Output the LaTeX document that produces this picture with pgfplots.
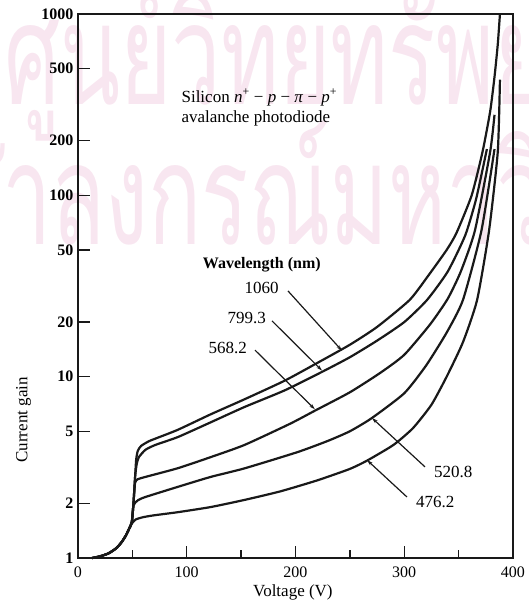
\documentclass[border=0pt]{standalone}
\usepackage{fontspec}
\setmainfont{Liberation Serif}
\newfontfamily\thaifont[Script=Thai]{Loma}
\usepackage{pgfplots}
\pgfplotsset{compat=1.18}
\usetikzlibrary{arrows.meta}
\definecolor{wmark}{RGB}{248,230,240}
\definecolor{ink}{RGB}{25,25,25}
\pgfplotsset{gaincurve/.style={ink, line width=2.2pt, no markers, smooth, tension=0.35}}

\begin{document}
\begin{tikzpicture}
% faint watermark of the scanned page
\node[overlay,anchor=base west,text=wmark,inner sep=0pt,yscale=1.6] at (-74pt,453pt)
  {\thaifont\fontsize{88}{88}\selectfont ศูนย์วิทยทรัพยากร};
\node[overlay,anchor=base west,text=wmark,inner sep=0pt,yscale=1.6] at (-76pt,313pt)
  {\thaifont\fontsize{88}{88}\selectfont \llap{จุฬ}าลงกรณ์มหาวิทยาลัย};
\path (-78pt,-48pt) rectangle (447pt,558pt);

\begin{axis}[
    width=435pt, height=544pt, scale only axis,
    xmin=0, xmax=400, ymin=1, ymax=1000, ymode=log,
    xtick={0,100,200,300,400},
    minor xtick={50,150,250,350},
    ytick={1,2,5,10,20,50,100,200,500,1000},
    yticklabels={1,2,5,10,20,50,100,200,500,1000},
    /pgf/number format/assume math mode=true,
    tick pos=left, tick align=inside,
    major tick length=12pt, minor tick length=8pt,
    tick style={line width=1.3pt, ink},
    axis line style={line width=1.6pt, ink},
    xticklabel style={font=\fontsize{16}{16}\selectfont, yshift=-5pt},
    yticklabel style={font=\bfseries\fontsize{16}{16}\selectfont, xshift=-1pt},
    xlabel={Voltage (V)},
    ylabel={Current gain},
    xlabel style={font=\fontsize{17}{17}\selectfont, at={(axis description cs:0.494,-0.0625)}, anchor=center},
    ylabel style={font=\fontsize{17}{17}\selectfont, at={(axis description cs:-0.125,0.254)}, anchor=center},
    clip=false,
]

% 1060 nm
\addplot[gaincurve] coordinates {
  (13,1.0) (20,1.02) (28,1.06) (35,1.13) (40,1.22) (44,1.33) (47,1.45) (49.5,1.57)
  (51,2.0) (52.5,2.8) (53.5,3.5) (55,3.9) (58,4.15) (65,4.4) (71,4.55) (92,5.1)
  (122,6.2) (153,7.5) (190,9.5) (220,11.9) (250,15) (275,18.8) (305,26.5) (322,36)
  (339,50) (348,62) (362,100) (372,174) (379,290) (383,450) (386,680) (388,1000)
};
% 799.3 nm
\addplot[gaincurve] coordinates {
  (13,1.0) (20,1.02) (28,1.06) (35,1.13) (40,1.22) (44,1.33) (47,1.45) (49.5,1.57)
  (51,2.0) (52.5,2.8) (54,3.3) (56,3.6) (62,3.95) (71,4.2) (92,4.65) (122,5.6)
  (153,6.8) (190,8.4) (224,10.6) (250,12.8) (275,15.8) (300,20) (321,26.5) (340,38)
  (356,60) (366,95) (376,180)
};
% 568.2 nm
\addplot[gaincurve] coordinates {
  (13,1.0) (20,1.02) (28,1.06) (35,1.13) (40,1.22) (44,1.33) (47,1.45) (49.5,1.57)
  (51,2.0) (52.5,2.6) (55,2.72) (62,2.8) (92,3.13) (122,3.6) (153,4.2) (195,5.5)
  (218,6.5) (250,8.2) (278,10.5) (300,13.2) (324,19.5) (340,26.9) (352,38) (365,64)
  (379,174) (383,278)
};
% 520.8 nm
\addplot[gaincurve] coordinates {
  (13,1.0) (20,1.02) (28,1.06) (35,1.13) (40,1.22) (44,1.33) (47,1.45) (49.5,1.6)
  (51,1.95) (55,2.08) (62,2.17) (92,2.47) (122,2.8) (153,3.12) (202,3.84) (230,4.43)
  (250,5.0) (270,5.9) (300,8.1) (320,11.5) (339,17.5) (354,26.5) (371,64) (383,180)
};
% 476.2 nm
\addplot[gaincurve] coordinates {
  (13,1.0) (20,1.02) (28,1.06) (35,1.13) (40,1.22) (44,1.33) (47,1.45) (49.5,1.55)
  (53,1.63) (60,1.68) (70,1.72) (92,1.79) (122,1.91) (153,2.09) (186,2.33) (220,2.68)
  (250,3.1) (266,3.45) (290,4.2) (308,5.2) (325,7.0) (339,10.0) (354,15.5) (367,26.5)
  (378,64) (386,174) (388,434)
};

% annotations
\node[font=\fontsize{17}{20}\selectfont, align=left, anchor=west] at (axis cs:92,305)
  {Silicon \textit{n}\textsuperscript{+} − \textit{p} − \textit{π} − \textit{p}\textsuperscript{+}\\avalanche photodiode};
\node[font=\bfseries\fontsize{16}{16}\selectfont] at (axis cs:169,41.3) {Wavelength (nm)};
\node[font=\fontsize{17}{17}\selectfont, anchor=east, inner sep=1pt] at (axis cs:185.7,30.8) {1060};
\node[font=\fontsize{17}{17}\selectfont, anchor=east, inner sep=1pt] at (axis cs:173.8,21.1) {799.3};
\node[font=\fontsize{17}{17}\selectfont, anchor=east, inner sep=1pt] at (axis cs:156.3,14.4) {568.2};
\node[font=\fontsize{17}{17}\selectfont, anchor=west, inner sep=1pt] at (axis cs:326.4,2.98) {520.8};
\node[font=\fontsize{17}{17}\selectfont, anchor=west, inner sep=1pt] at (axis cs:309.9,2.04) {476.2};
\draw[ink, line width=1.2pt, -{Stealth[length=6pt,width=3.5pt]}] (axis cs:193.1,29.7) -- (axis cs:242.8,13.9);
\draw[ink, line width=1.2pt, -{Stealth[length=6pt,width=3.5pt]}] (axis cs:178.4,20.3) -- (axis cs:224.4,10.8);
\draw[ink, line width=1.2pt, -{Stealth[length=6pt,width=3.5pt]}] (axis cs:162.8,14.0) -- (axis cs:217.9,6.6);
\draw[ink, line width=1.2pt, -{Stealth[length=6pt,width=3.5pt]}] (axis cs:319.1,3.18) -- (axis cs:270.3,5.92);
\draw[ink, line width=1.2pt, -{Stealth[length=6pt,width=3.5pt]}] (axis cs:302.5,2.17) -- (axis cs:265.7,3.47);
\end{axis}
\end{tikzpicture}
\end{document}
